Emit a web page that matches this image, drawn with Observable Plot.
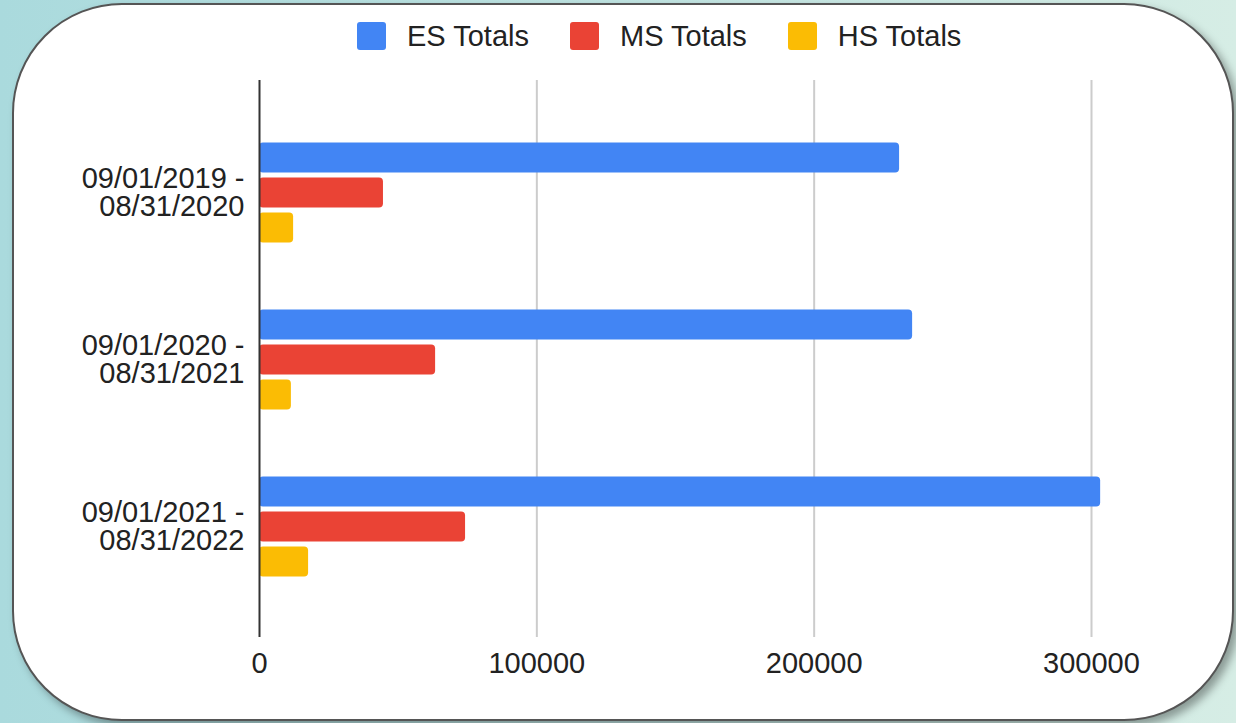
<!DOCTYPE html>
<html>
<head>
<meta charset="utf-8">
<script src="https://cdn.jsdelivr.net/npm/d3@7"></script>
<script src="https://cdn.jsdelivr.net/npm/@observablehq/plot@0.6"></script>
<style>
  html, body { margin: 0; padding: 0; }
  body {
    width: 1236px; height: 723px; overflow: hidden; position: relative;
    background: linear-gradient(to right, #aadadd 0%, #bfe3e1 50%, #d6ede5 100%);
    font-family: "Liberation Sans", Arial, sans-serif;
  }
  #card {
    position: absolute; left: 12px; top: 3px; width: 1222px; height: 718px;
    box-sizing: border-box; background: #fff; border: 2px solid #555;
    border-radius: 110px; box-shadow: 5px 5px 8px rgba(0,0,0,0.35);
  }
  #legend {
    position: absolute; left: 357px; top: 21px; display: flex; align-items: center;
    font-size: 29px; line-height: 30px; color: #222; z-index: 3; white-space: nowrap;
  }
  .item { display: flex; align-items: center; margin-right: 41px; }
  .sw { width: 29px; height: 28px; border-radius: 3px; margin-right: 21px; }
  #chart { position: absolute; left: 0; top: 0; z-index: 2; }
</style>
</head>
<body>
<div id="card"></div>
<div id="legend"></div>
<div id="chart"></div>
<script>
const periods = ["09/01/2019 - 08/31/2020", "09/01/2020 - 08/31/2021", "09/01/2021 - 08/31/2022"];
const seriesNames = ["ES Totals", "MS Totals", "HS Totals"];
const esTotals = [230800, 235500, 303300];
const msTotals = [44700, 63500, 74300];
const hsTotals = [12300, 11500, 17700];
const seriesColors = ["#4285f4", "#ea4335", "#fbbc04"];
const xTicks = [0, 100000, 200000, 300000];

const seriesValues = [esTotals, msTotals, hsTotals];

// legend
const legend = document.getElementById("legend");
seriesNames.forEach((name, i) => {
  const item = document.createElement("div");
  item.className = "item";
  const sw = document.createElement("div");
  sw.className = "sw";
  sw.style.background = seriesColors[i];
  const label = document.createElement("span");
  label.textContent = name;
  item.appendChild(sw);
  item.appendChild(label);
  legend.appendChild(item);
});

const offsets = [-35, 0, 35];
const barMarks = seriesNames.map((name, i) => {
  const rows = periods.map((p, j) => ({period: p, value: seriesValues[i][j], series: name}));
  return Plot.barX(rows, {
    x: "value", y: "period", fill: seriesColors[i],
    insetTop: 68.5, insetBottom: 68.5, dy: offsets[i], rx: 4
  });
});

const chart = Plot.plot({
  width: 1236, height: 723,
  marginLeft: 259, marginRight: 145, marginTop: 80, marginBottom: 86,
  style: {background: "transparent", fontFamily: "'Liberation Sans', Arial, sans-serif", overflow: "visible"},
  x: {domain: [0, 300000]},
  y: {domain: periods, range: [108.5, 609.5], padding: 0, axis: null},
  marks: [
    Plot.gridX(xTicks.slice(1), {stroke: "#cccccc", strokeOpacity: 1, strokeWidth: 2}),
    ...barMarks,
    Plot.ruleX([0], {stroke: "#333", strokeWidth: 2}),
    Plot.axisX(xTicks, {tickSize: 0, tickPadding: 15, fontSize: 29, fill: "#222", label: null, tickFormat: d => String(d)}),
    Plot.text(periods, {
      x: () => 0, y: d => d, text: d => d.replace(" - ", " -\n"),
      dx: -15, textAnchor: "end", fontSize: 29, lineHeight: 0.97, fill: "#222"
    })
  ]
});
document.getElementById("chart").appendChild(chart);
</script>
</body>
</html>
